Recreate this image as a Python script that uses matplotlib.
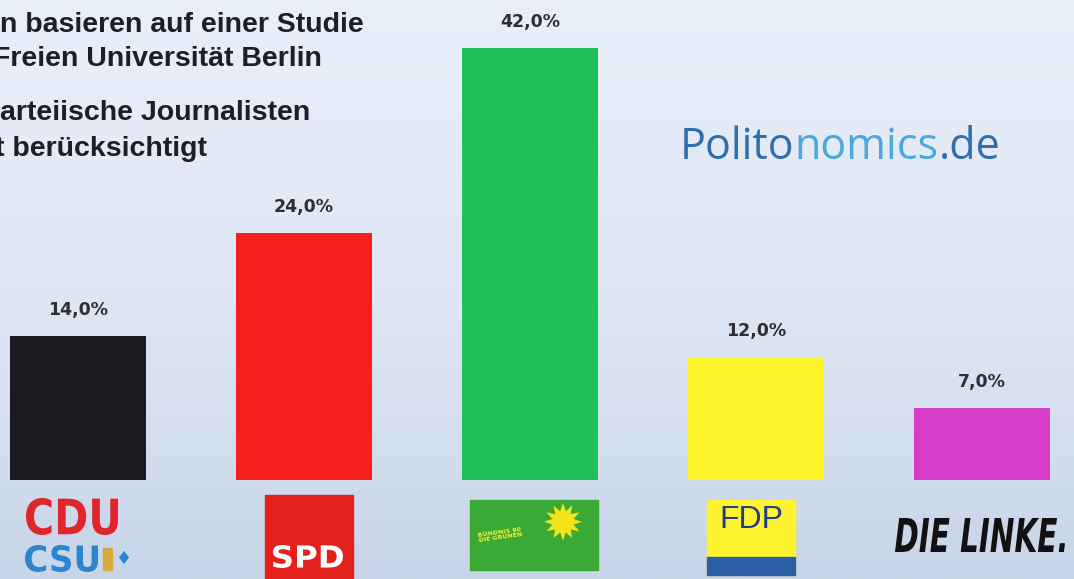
import matplotlib.pyplot as plt
import numpy as np
from matplotlib.patches import Rectangle, PathPatch
from matplotlib.textpath import TextPath
from matplotlib.font_manager import FontProperties
from matplotlib.transforms import Affine2D
from matplotlib.colors import LinearSegmentedColormap

# Daten
parteien = ["CDU/CSU", "SPD", "Grüne", "FDP", "Die Linke"]
anteile = [14.0, 24.0, 42.0, 12.0, 7.0]
farben = ["#1c1b22", "#f5201e", "#20c05a", "#fdf52a", "#d63cc8"]
labels = ["14,0%", "24,0%", "42,0%", "12,0%", "7,0%"]

W, H = 1074, 579
fig = plt.figure(figsize=(W / 100, H / 100), dpi=100)
ax = fig.add_axes([0, 0, 1, 1])
ax.set_xlim(-0.345, 4.407)
ax.axis("off")

# Hintergrund (heller Verlauf, oben hell)
grad = np.linspace(0, 1, 256).reshape(-1, 1)
bg = LinearSegmentedColormap.from_list("bg", ["#e9eff9", "#dfe7f4", "#c8d5e8"])
ax.imshow(grad, cmap=bg, extent=[-0.345, 4.407, -9.62, 46.65], aspect="auto",
          origin="upper", zorder=0)
ax.set_ylim(-9.62, 46.65)

x = np.arange(len(parteien))
ax.bar(x, anteile, width=0.60, color=farben, zorder=2)
for xi, v, lab in zip(x, anteile, labels):
    ax.text(xi, v + 2.5, lab, ha="center", va="center", fontsize=12.5,
            fontweight="bold", color="#2e2e33", zorder=3)

# Text oben links (abgeschnitten wie im Original)
zeilen = [("n basieren auf einer Studie", 0, 25), ("Freien Universität Berlin", -7, 59),
          ("arteiische Journalisten", 0, 113), ("t berücksichtigt", -5, 149)]
for t, px, py in zeilen:
    fig.text(px / W, 1 - py / H, t, ha="left", va="center", fontsize=20.5,
             fontweight="bold", color="#1e1e24", family="Liberation Sans")

# Politonomics.de
yy = 1 - 148 / H
t1 = fig.text(680 / W, yy, "Polito", fontsize=31, color="#2f6fae", family="Open Sans", va="center")
fig.canvas.draw()
r = fig.canvas.get_renderer()
bb = t1.get_window_extent(r)
t2 = fig.text(bb.x1 / W, yy, "nomics", fontsize=31, color="#4aa8dc", family="Open Sans", va="center")
bb2 = t2.get_window_extent(r)
fig.text(bb2.x1 / W, yy, ".de", fontsize=31, color="#2f6fae", family="Open Sans", va="center")


def logo_text(s, x0, y0, x1, y1, color, style="normal"):
    # Text in ein Pixel-Rechteck (von oben gemessen) einpassen
    fp = FontProperties(family="DejaVu Sans", weight="bold", style=style)
    tp = TextPath((0, 0), s, size=10, prop=fp)
    ext = tp.get_extents()
    sx = (x1 - x0) / W / ext.width
    sy = (y1 - y0) / H / ext.height
    tr = Affine2D().translate(-ext.x0, -ext.y0).scale(sx, sy).translate(x0 / W, 1 - y1 / H)
    fig.patches.append(PathPatch(tp, transform=tr + fig.transFigure, color=color, lw=0, zorder=3))


def box(x0, y0, x1, y1, color):
    fig.patches.append(Rectangle((x0 / W, 1 - y1 / H), (x1 - x0) / W, (y1 - y0) / H,
                                 transform=fig.transFigure, color=color, zorder=1))


# Logos
logo_text("CDU", 26, 498, 118, 535, "#e0262c")
logo_text("CSU", 25, 545, 98, 572, "#2a86cf")
box(103, 548, 112, 570, "#d9a93a")
fig.text(124 / W, 1 - 559 / H, "♦", fontsize=13, color="#2a86cf", ha="center", va="center")

box(265, 495, 353, 579, "#e3201c")
logo_text("SPD", 273, 545, 343, 568, "white")

box(470, 500, 598, 570, "#3aa935")
fig.text(500 / W, 1 - 535 / H, "BÜNDNIS 90\nDIE GRÜNEN", fontsize=4.5, fontweight="bold",
         color="#f4ef30", ha="center", va="center", rotation=8)
fig.text(563 / W, 1 - 525 / H, "✹", fontsize=36, color="#f4e21a", ha="center", va="center")

box(707, 500, 795, 575, "#fff22e")
box(707, 557, 795, 575, "#2a5fa8")
fig.text(751 / W, 1 - 520 / H, "FDP", fontsize=23, color="#1f3f8a",
         family="Liberation Sans", ha="center", va="center")

logo_text("DIE LINKE.", 895, 518, 1065, 552, "#111111", style="italic")

fig.savefig("out.png", dpi=100)
